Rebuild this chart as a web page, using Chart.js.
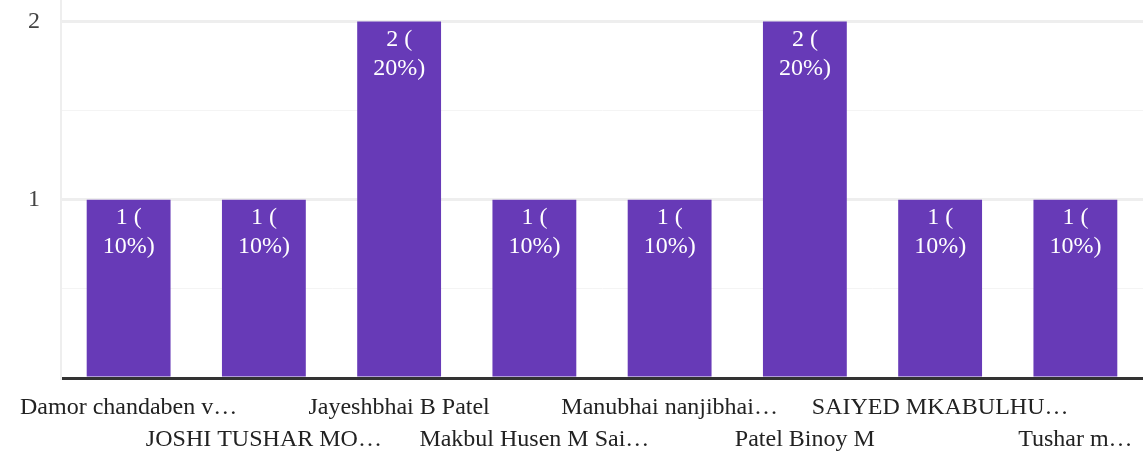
<!DOCTYPE html>
<html lang="en">
<head>
  <meta charset="UTF-8">
  <title>Responses</title>
  <script src="https://cdn.jsdelivr.net/npm/chart.js"></script>
  <style>
    html, body {
      margin: 0;
      padding: 0;
      background: #fff;
    }
    .chart-container {
      position: relative;
      width: 1143px;
      height: 456px;
    }
  </style>
</head>
<body>
  <div class="chart-container">
    <canvas id="barChart"></canvas>
  </div>

  <script>
    // Data
    const names = [
      "Damor chandaben v\u2026",
      "JOSHI TUSHAR MO\u2026",
      "Jayeshbhai B Patel",
      "Makbul Husen M Sai\u2026",
      "Manubhai nanjibhai\u2026",
      "Patel Binoy M",
      "SAIYED MKABULHU\u2026",
      "Tushar m\u2026"
    ];
    const counts = [1, 1, 2, 1, 1, 2, 1, 1];
    const yTickValues = [0, 0.5, 1, 1.5, 2];
    const yTickLabels = [1, 2];

    const total = counts.reduce((a, b) => a + b, 0);
    const serif = '"Liberation Serif", "Times New Roman", serif';

    // white "n (\nxx%)" label at the top of each bar
    const barLabels = {
      id: 'barLabels',
      afterDatasetsDraw(chart) {
        const ctx = chart.ctx;
        const meta = chart.getDatasetMeta(0);
        ctx.save();
        ctx.fillStyle = '#ffffff';
        ctx.font = '24px ' + serif;
        ctx.textAlign = 'center';
        ctx.textBaseline = 'middle';
        meta.data.forEach((bar, i) => {
          const v = counts[i];
          const pct = Math.round(v / total * 100);
          ctx.fillText(v + ' (', bar.x, bar.y + 18);
          ctx.fillText(pct + '%)', bar.x, bar.y + 47);
        });
        ctx.restore();
      }
    };

    const ctx = document.getElementById('barChart').getContext('2d');
    new Chart(ctx, {
      type: 'bar',
      data: {
        labels: names,
        datasets: [{
          data: counts,
          backgroundColor: '#673ab7',
          borderWidth: 0,
          categoryPercentage: 0.62,
          barPercentage: 1.0
        }]
      },
      options: {
        responsive: true,
        maintainAspectRatio: false,
        animation: false,
        layout: { padding: 0 },
        plugins: {
          legend: { display: false },
          tooltip: { enabled: false }
        },
        scales: {
          x: {
            grid: { display: false },
            border: { color: '#333333', width: 3 },
            afterFit: (scale) => {
              scale.height = 78;
              scale.paddingLeft = 0;
              scale.paddingRight = 0;
            },
            ticks: {
              autoSkip: false,
              maxRotation: 0,
              minRotation: 0,
              padding: 6,
              color: '#222222',
              font: { family: serif, size: 24, lineHeight: 1.33 },
              callback: function (value, index) {
                const label = names[index];
                return index % 2 === 0 ? label : ['', label];
              }
            }
          },
          y: {
            min: 0,
            max: 2.12,
            afterFit: (scale) => {
              scale.width = 61;
              scale.paddingTop = 0;
              scale.paddingBottom = 0;
            },
            afterBuildTicks: (scale) => {
              scale.ticks = yTickValues.map(v => ({ value: v }));
            },
            border: { color: '#eeeeee', width: 2 },
            grid: {
              drawTicks: false,
              color: (c) => {
                const v = c.tick ? c.tick.value : 0;
                if (v === 0) return 'rgba(0,0,0,0)';
                return Number.isInteger(v) ? '#eeeeee' : '#f4f4f4';
              },
              lineWidth: (c) => {
                const v = c.tick ? c.tick.value : 0;
                return Number.isInteger(v) ? 3 : 1;
              }
            },
            ticks: {
              padding: 21,
              color: '#444444',
              font: { family: serif, size: 24 },
              callback: function (value) {
                return yTickLabels.includes(value) ? String(value) : '';
              }
            }
          }
        }
      },
      plugins: [barLabels]
    });
  </script>
</body>
</html>
